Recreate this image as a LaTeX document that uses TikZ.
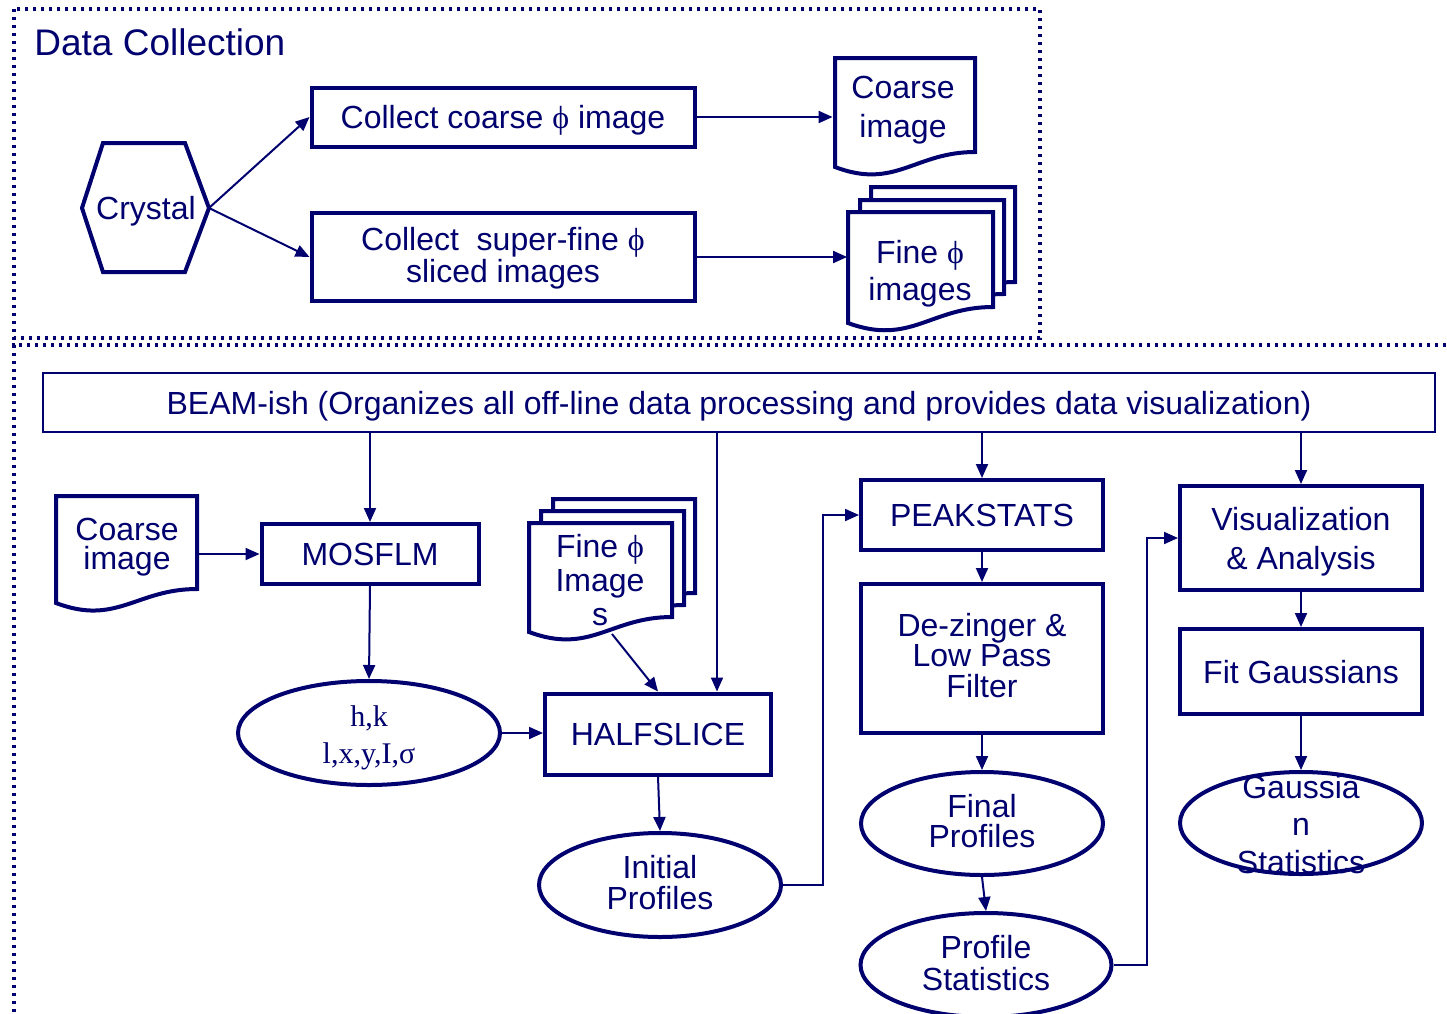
\documentclass[tikz,border=0pt]{standalone}
\usepackage{fontspec}
\setmainfont{Liberation Sans}
\newfontfamily\serifgreek{Liberation Serif}
\usetikzlibrary{shapes.geometric,arrows.meta,calc}
\definecolor{ink}{RGB}{0,0,110}

\newcommand\phiglyph{{\serifgreek ϕ}}
% document outline: x0, y0 (top), x1, y at left bottom, y at right bottom
\newcommand\docoutline[5]{%
  \path[docframe] (#1,#4) -- (#1,#2) -- (#3,#2) -- (#3,#5)
    .. controls ({#1+0.57*(#3-#1)},{#5+0}) and ({#1+0.43*(#3-#1)},{#4+23}) .. (#1,#4) -- cycle;}

\tikzset{
  txt/.style={font=\fontsize{16}{16}\selectfont, text=ink, align=center, inner sep=0pt, text depth=0pt},
  box/.style={txt, draw=ink, line width=2pt},
  oval/.style={txt, ellipse, draw=ink, line width=2pt},
  docframe/.style={draw=ink, line width=2pt, fill=white, line join=miter},
  conn/.style={draw=ink, line width=1pt, -{Triangle[length=7pt,width=6pt]}},
  dotframe/.style={draw=ink, line width=1.6pt, dash pattern=on 1.6pt off 2.4pt},
}

\begin{document}
\begin{tikzpicture}[x=0.5pt,y=-0.5pt]
\useasboundingbox (0,0) rectangle (1447,1013);

% ---------- data collection frame ----------
\draw[dotframe] (14,9) rectangle (1040,338);
\node[txt, font=\fontsize{18.5}{18.5}\selectfont, anchor=base west] (title) at (34,55) {Data Collection};

% crystal hexagon
\draw[draw=ink, line width=2pt, line join=miter]
  (82,208) -- (103,143) -- (185,143) -- (209,208) -- (185,272) -- (103,272) -- cycle;
\node[txt] (crys) at (146,208) {Crystal};
\coordinate (crysR) at (209,208);

\node[box, minimum width=191.5pt, minimum height=29.5pt] (coarseBox) at (503,117)
  {Collect coarse \phiglyph{} image};
\node[box, minimum width=191.5pt, minimum height=44pt] (fineBox) at (503,257) {};
\node[txt, font=\fontsize{16}{12.5}\selectfont] (fineBoxText) at (503,255)
  {Collect\ \ super-fine \phiglyph\\sliced images};

% coarse image document
\docoutline{835}{58}{975}{167}{152}
\node[txt, font=\fontsize{16}{19.5}\selectfont, minimum width=70pt] (cdocA) at (903,107) {Coarse\\image};

% fine image stack
\docoutline{871}{187}{1015}{298}{282}
\docoutline{860}{200}{1004}{310}{294}
\docoutline{848}{212}{993}{323}{307}
\node[txt, font=\fontsize{16}{18.5}\selectfont, minimum width=72.5pt] (fdocA) at (920,270) {Fine \phiglyph\\images};

\draw[conn] (crysR) -- (coarseBox.west);
\draw[conn] (crysR) -- (fineBox.west);
\draw[conn] (coarseBox.east) -- (coarseBox.east -| cdocA.west);
\draw[conn] (fineBox.east) -- (fineBox.east -| fdocA.west);

% ---------- processing frame ----------
\draw[dotframe] (14,1020) -- (14,345) -- (1452,345);

\node[txt, draw=ink, line width=1pt, minimum width=696pt, minimum height=29.5pt] (beam) at (739,402.5)
  {BEAM-ish (Organizes all off-line data processing and provides data visualization)};

% coarse image document (input to MOSFLM)
\docoutline{56}{496}{197}{603}{589}
\node[txt, font=\fontsize{16}{14.5}\selectfont, minimum width=70.5pt] (cdocB) at (127,544) {Coarse\\image};

\node[box, minimum width=108.5pt, minimum height=30pt] (mosflm) at (370,554) {MOSFLM};
\node[oval, minimum width=131pt, minimum height=52pt] (hkl) at (369,733) {};
\node[txt, font=\serifgreek\fontsize{15}{18.5}\selectfont] (hklText) at (369,735) {h,k\\l,x,y,I,σ};

% fine image stack (input to HALFSLICE)
\docoutline{553}{499}{695}{608}{593}
\docoutline{541}{511}{684}{620}{605}
\docoutline{529}{523}{672}{632}{617}
\node[txt, font=\fontsize{16}{17}\selectfont] (fdocB) at (600,580) {Fine \phiglyph\\Image\\s};
\coordinate (fineBot) at (612,634);

\node[box, minimum width=113pt, minimum height=40.5pt] (halfslice) at (658,734) {HALFSLICE};
\coordinate (hsTop) at ([xshift=29.5pt]halfslice.north);
\node[oval, minimum width=121pt, minimum height=52pt] (initProf) at (660,885) {};
\node[txt, font=\fontsize{16}{15.5}\selectfont] (initText) at (660,882) {Initial\\Profiles};

\node[box, minimum width=121pt, minimum height=35pt] (peakstats) at (982,515) {PEAKSTATS};
\node[box, minimum width=121pt, minimum height=74.5pt] (dezinger) at (982,658.5) {};
\node[txt, font=\fontsize{16}{15.25}\selectfont] (dezText) at (982,655) {De-zinger \&\\Low Pass\\Filter};
\node[oval, minimum width=121pt, minimum height=51.5pt] (finalProf) at (982,823.5) {};
\node[txt, font=\fontsize{16}{15}\selectfont] (finalText) at (982,821) {Final\\Profiles};
\node[oval, minimum width=125.5pt, minimum height=52pt] (profStat) at (986,965) {};
\node[txt, font=\fontsize{16}{16}\selectfont] (profText) at (986,963) {Profile\\Statistics};

\node[box, minimum width=121pt, minimum height=52pt, font=\fontsize{16}{19.5}\selectfont] (vis) at (1301,538) {Visualization\\\& Analysis};
\node[box, minimum width=121pt, minimum height=42.5pt] (fitG) at (1301,671.5) {Fit Gaussians};
\node[oval, minimum width=121pt, minimum height=51pt] (gaussStat) at (1301,823) {};
\node[txt, font=\fontsize{16}{18.75}\selectfont] (gaussText) at (1301,824) {Gaussia\\n\\Statistics};

% connectors
\draw[conn] (mosflm.north |- beam.south) -- (mosflm.north);
\draw[conn] (hsTop |- beam.south) -- (hsTop);
\draw[conn] (peakstats.north |- beam.south) -- (peakstats.north);
\draw[conn] (vis.north |- beam.south) -- (vis.north);

\draw[conn] (mosflm.west -| cdocB.east) -- (mosflm.west);
\draw[conn] (mosflm.south) -- (hkl.north);
\draw[conn] (hkl.east) -- (hkl.east -| halfslice.west);
\draw[conn] (fineBot) -- (halfslice.north);
\draw[conn] (halfslice.south) -- (initProf.north);
\draw[conn] (initProf.east) -- ++(40,0) |- (peakstats.west);

\draw[conn] (peakstats.south) -- (dezinger.north);
\draw[conn] (dezinger.south) -- (finalProf.north);
\draw[conn] (finalProf.south) -- (profStat.north);
\draw[conn] (profStat.east) -- ++(33,0) |- (vis.west);

\draw[conn] (vis.south) -- (fitG.north);
\draw[conn] (fitG.south) -- (gaussStat.north);
\end{tikzpicture}
\end{document}
